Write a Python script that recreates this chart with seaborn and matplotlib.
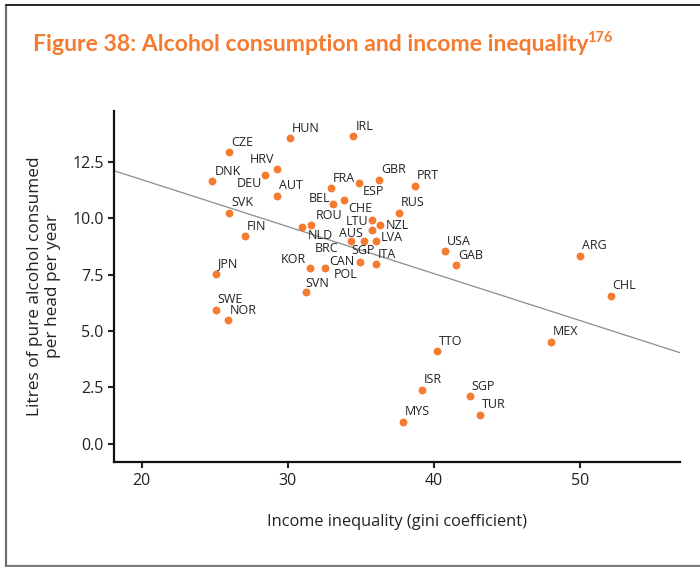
#Importing libraries
import numpy as np
import pandas as pd
import matplotlib
matplotlib.use("Agg")
import matplotlib.pyplot as plt
from matplotlib.lines import Line2D
import seaborn as sns

#Country codes, income inequality (gini) and litres of alcohol per head per year
Countries = ["HUN", "IRL", "CZE", "HRV", "DEU", "DNK", "AUT", "FRA", "ESP", "GBR", "PRT",
             "BEL", "CHE", "SVK", "RUS", "FIN", "NLD", "ROU", "LTU", "NZL", "AUS", "BRC",
             "SGP", "LVA", "CAN", "ITA", "POL", "KOR", "SVN", "JPN", "SWE", "NOR", "TTO",
             "MEX", "ISR", "SGP", "TUR", "MYS", "USA", "GAB", "ARG", "CHL"]
Gini = [30.14, 34.50, 25.97, 29.29, 28.43, 24.83, 29.29, 32.97, 34.88, 36.27, 38.73,
        33.10, 33.85, 25.97, 37.60, 27.08, 31.00, 31.60, 35.78, 36.29, 35.74, 34.32,
        35.19, 36.04, 34.94, 36.04, 32.56, 31.54, 31.27, 25.05, 25.05, 25.92, 40.24,
        48.01, 39.17, 42.45, 43.19, 37.89, 40.77, 41.53, 50.05, 52.12]
Alcohol = [13.57, 13.66, 12.94, 12.19, 11.92, 11.65, 11.00, 11.35, 11.57, 11.72, 11.45,
           10.63, 10.80, 10.25, 10.25, 9.22, 9.64, 9.72, 9.92, 9.69, 9.50, 9.00,
           9.01, 9.01, 8.08, 7.96, 7.79, 7.82, 6.73, 7.55, 5.95, 5.47, 4.11,
           4.52, 2.39, 2.11, 1.29, 0.98, 8.55, 7.93, 8.34, 6.57]

DataFrame = pd.DataFrame({"Country": Countries, "Gini": Gini, "Alcohol": Alcohol})

#Label placement (pixel offset from the dot, alignment) - default is above right
LabelOffsets = {"HRV": (-3, -10, "right"), "DEU": (-3, 8, "right"), "ESP": (4, 8, "left"),
                "BEL": (-3, -6, "right"), "CHE": (4, 8, "left"), "ROU": (5, -9, "left"),
                "NLD": (5, 9, "left"), "LTU": (-4, 1, "right"), "NZL": (6, 0, "left"),
                "AUS": (-9, 4, "right"), "LVA": (5, -3, "left"), "BRC": (-12, 8, "right"),
                "SGP": (0, 10, "center"), "CAN": (-5, 0, "right"), "POL": (9, 6, "left"),
                "KOR": (-4, -8, "right"), "SVN": (-1, -9, "left")}

Orange = "#F47B30"
sns.set_style("ticks")
plt.rcParams["font.family"] = ["Open Sans", "DejaVu Sans"]

fig = plt.figure(figsize=(7, 5.67), dpi=100)
ax = fig.add_axes([0.163, 0.185, 0.808, 0.62])
ax.set_xlim(18.1, 56.85)
ax.set_ylim(-0.82, 14.79)

#Trend line across the whole axis, then the points
sns.regplot(data=DataFrame, x="Gini", y="Alcohol", scatter=False, ci=None, truncate=False,
            color="#8c8c8c", line_kws={"linewidth": 0.9}, ax=ax)
sns.scatterplot(data=DataFrame, x="Gini", y="Alcohol", color=Orange, s=32, linewidth=0,
                zorder=3, ax=ax)

seen = set()
for Country, X, Y in zip(Countries, Gini, Alcohol):
    Key = Country if Country not in seen else Country + "2"
    seen.add(Country)
    dx, dy, ha = LabelOffsets.get(Key, (2, -10, "left"))
    ax.annotate(Country, (X, Y), xytext=(dx, -dy), textcoords="offset pixels",
                ha=ha, va="center", fontsize=9, color="#222222")

ax.set_xticks([20, 30, 40, 50])
ax.set_yticks([0, 2.5, 5, 7.5, 10, 12.5])
ax.set_yticklabels(["0.0", "2.5", "5.0", "7.5", "10.0", "12.5"])
ax.tick_params(labelsize=11.5, colors="#222222", width=1.5, length=4)
for side in ["left", "bottom"]:
    ax.spines[side].set_linewidth(1.6)
    ax.spines[side].set_color("#111111")
sns.despine(ax=ax)
ax.set_xlabel("Income inequality (gini coefficient)", fontsize=11.8, color="#222222", labelpad=18)
ax.set_ylabel("Litres of pure alcohol consumed\nper head per year", fontsize=12.4,
              color="#222222", labelpad=8)

#Title with the superscript reference number, sized to the reference width
TitleFont = ["Lato", "DejaVu Sans"]
Title = fig.text(0.047, 0.921, "Figure 38: Alcohol consumption and income inequality",
                 fontsize=18, fontweight="bold", color=Orange, family=TitleFont, va="center")
fig.canvas.draw()
Width = Title.get_window_extent().width
Title.set_fontsize(18 * 557 / Width)
fig.canvas.draw()
TitleBox = Title.get_window_extent().transformed(fig.transFigure.inverted())
fig.text(TitleBox.x1 - 0.002, 0.933, "176", fontsize=10.5, fontweight="bold", color=Orange,
         family=TitleFont, va="center")

#Page frame lines
fig.add_artist(Line2D([0.008, 0.008], [0, 0.992], color="#6e6e6e", linewidth=1.6))
fig.add_artist(Line2D([0.008, 1], [0.992, 0.992], color="#222222", linewidth=1.4))
fig.add_artist(Line2D([0.008, 1], [0.002, 0.002], color="#7a7a7a", linewidth=1.6))

fig.savefig("out.png", dpi=100)
